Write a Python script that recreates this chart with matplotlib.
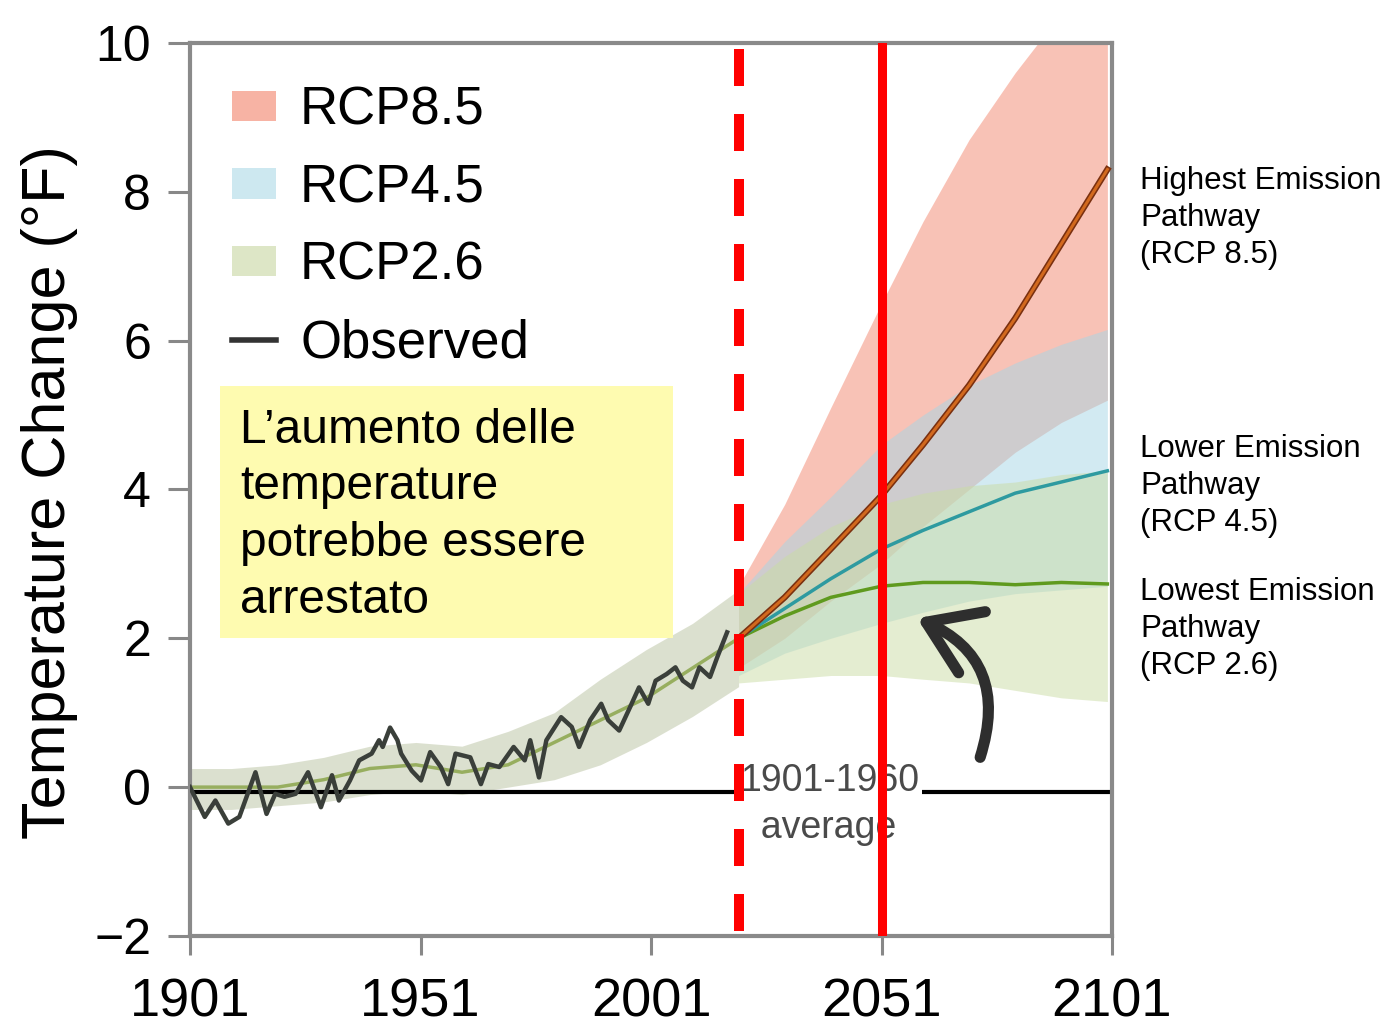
import numpy as np
import matplotlib.pyplot as plt
import matplotlib.patheffects as pe
from matplotlib.patches import Rectangle, Patch
from matplotlib.lines import Line2D

plt.rcParams['font.family'] = ['Liberation Sans', 'DejaVu Sans']

# observed temperature change
obs_year = [1901, 1904.2, 1906.5, 1909.3, 1911.7, 1915.2, 1917.6, 1919.5, 1921.5, 1923.9,
            1926.6, 1929.4, 1931.8, 1933.3, 1935.7, 1937.7, 1940.4, 1942, 1942.8, 1944.4,
            1946, 1946.8, 1949.1, 1951.1, 1953.1, 1955.4, 1957, 1958.6, 1961.8, 1964.1,
            1965.7, 1968.1, 1971.2, 1973.6, 1974.8, 1976.7, 1978.3, 1981.5, 1983.8, 1985.4,
            1987.8, 1990.2, 1991.7, 1994.1, 1996.5, 1998.4, 2000.4, 2002, 2004.4, 2006.3,
            2007.9, 2009.9, 2011.5, 2013.8, 2015.4, 2017.5]
obs_temp = [0.0, -0.40, -0.18, -0.49, -0.40, 0.20, -0.36, -0.09, -0.13, -0.09,
            0.20, -0.27, 0.16, -0.18, 0.09, 0.36, 0.45, 0.63, 0.54, 0.80,
            0.63, 0.45, 0.22, 0.09, 0.47, 0.27, 0.04, 0.45, 0.40, 0.04,
            0.31, 0.27, 0.54, 0.36, 0.63, 0.13, 0.63, 0.94, 0.81, 0.54,
            0.90, 1.12, 0.90, 0.76, 1.08, 1.34, 1.12, 1.43, 1.52, 1.61,
            1.43, 1.34, 1.61, 1.48, 1.75, 2.08]

# historical model range
hist_year = [1901, 1910, 1920, 1930, 1940, 1950, 1960, 1970, 1980, 1990, 2000, 2010, 2020]
hist_lo = [-0.3, -0.3, -0.25, -0.2, -0.1, -0.05, -0.1, 0.0, 0.1, 0.3, 0.6, 0.95, 1.35]
hist_hi = [0.25, 0.25, 0.3, 0.4, 0.55, 0.6, 0.55, 0.75, 1.0, 1.45, 1.85, 2.2, 2.65]
hist_mid = [0.0, 0.0, 0.0, 0.1, 0.25, 0.3, 0.2, 0.3, 0.6, 0.9, 1.2, 1.6, 2.0]

# projections
proj_year = [2020, 2030, 2040, 2051, 2060, 2070, 2080, 2090, 2100]
rcp85 = [2.0, 2.55, 3.2, 3.92, 4.6, 5.4, 6.3, 7.3, 8.3]
rcp85_lo = [1.6, 2.0, 2.5, 3.0, 3.5, 4.0, 4.5, 4.9, 5.2]
rcp85_hi = [2.7, 3.8, 5.1, 6.5, 7.6, 8.7, 9.6, 10.4, 11.2]
rcp45 = [2.0, 2.4, 2.8, 3.2, 3.45, 3.7, 3.95, 4.1, 4.25]
rcp45_lo = [1.5, 1.8, 2.0, 2.2, 2.35, 2.5, 2.6, 2.65, 2.7]
rcp45_hi = [2.6, 3.3, 3.9, 4.6, 5.0, 5.4, 5.7, 5.95, 6.15]
rcp26 = [2.0, 2.3, 2.55, 2.7, 2.75, 2.75, 2.72, 2.75, 2.73]
rcp26_lo = [1.4, 1.45, 1.5, 1.5, 1.45, 1.4, 1.3, 1.2, 1.15]
rcp26_hi = [2.6, 3.1, 3.5, 3.8, 3.95, 4.05, 4.1, 4.2, 4.25]

baseline = -0.06
now_year = 2020
mark_year = 2051

fig = plt.figure(figsize=(13.9, 10.3), dpi=100)
ax = fig.add_axes([0.1367, 0.0913, 0.6633, 0.867])

ax.fill_between(hist_year, hist_lo, hist_hi, color='#b9c2a0', alpha=0.5, lw=0, zorder=1)
ax.fill_between(proj_year, rcp85_lo, rcp85_hi, color='#f4907a', alpha=0.55, lw=0, zorder=1)
ax.fill_between(proj_year, rcp45_lo, rcp45_hi, color='#a6d6e6', alpha=0.5, lw=0, zorder=1)
ax.fill_between(proj_year, rcp26_lo, rcp26_hi, color='#cadca4', alpha=0.5, lw=0, zorder=1)

ax.plot(hist_year, hist_mid, color='#7a9a30', lw=2.5, alpha=0.7, zorder=2)
ax.plot(proj_year, rcp26, color='#5f9a1e', lw=2.5, zorder=3)
ax.plot(proj_year, rcp45, color='#2e9aa0', lw=2.5, zorder=3)
ax.plot(proj_year, rcp85, color='#d2691e', lw=2.2, zorder=4,
        path_effects=[pe.Stroke(linewidth=4.5, foreground='#7a3010'), pe.Normal()])

ax.axhline(baseline, color='black', lw=3, zorder=2)
ax.plot(obs_year, obs_temp, color='#3a3f3a', lw=3.2, zorder=5)

ax.text(now_year + 0.3, -0.23, '1901-1960\n  average', fontsize=27, color='#4a4a4a',
        va='center', ha='left', linespacing=1.4, zorder=6,
        bbox=dict(facecolor='white', edgecolor='none', pad=2))

ax.axvline(now_year, color='red', lw=7.2, ymin=0.005, ymax=1.0,
           dashes=(3.7, 2.8), dash_capstyle='butt', zorder=7)
ax.axvline(mark_year, color='red', lw=6.5, zorder=7)

# curved arrow
ax.annotate('', xy=(2058.7, 2.27), xytext=(2072.4, 0.40),
            arrowprops=dict(arrowstyle='->,head_length=0.9,head_width=0.6', lw=8,
                            color='#2e2e2e', connectionstyle='arc3,rad=0.45',
                            shrinkA=0, shrinkB=0, mutation_scale=40), zorder=6)

# yellow box
ax.add_patch(Rectangle((0.0325, 0.3337), 0.4915, 0.2823, transform=ax.transAxes,
                       facecolor='#fefbb0', edgecolor='none', zorder=6))
ax.text(0.0542, 0.471, 'L’aumento delle\ntemperature\npotrebbe essere\narrestato',
        transform=ax.transAxes, fontsize=34.5, va='center', ha='left',
        linespacing=1.34, zorder=7)

# right side labels
side_kw = dict(transform=ax.transAxes, fontsize=22.5, va='center', ha='left',
               linespacing=1.32, clip_on=False)
ax.text(1.0304, (936 - 218) / 893, 'Highest Emission\nPathway\n(RCP 8.5)', **side_kw)
ax.text(1.0304, (936 - 486) / 893, 'Lower Emission\nPathway\n(RCP 4.5)', **side_kw)
ax.text(1.0304, (936 - 629) / 893, 'Lowest Emission\nPathway\n(RCP 2.6)', **side_kw)

handles = [Patch(facecolor='#f7b3a4', edgecolor='none'),
           Patch(facecolor='#cde8f0', edgecolor='none'),
           Patch(facecolor='#dde6c6', edgecolor='none'),
           Line2D([0], [0], color='#333333', lw=4)]
ax.legend(handles, ['RCP8.5', 'RCP4.5', 'RCP2.6', 'Observed'], loc='upper left',
          bbox_to_anchor=(0.045, 0.952), frameon=False, fontsize=38,
          handlelength=0.85, handleheight=0.5, handletextpad=0.45,
          labelspacing=0.52, borderpad=0, borderaxespad=0)

ax.set_xlim(1901, 2101)
ax.set_ylim(-2, 10)
ax.set_xticks([1901, 1951, 2001, 2051, 2101])
ax.set_yticks([-2, 0, 2, 4, 6, 8, 10])
ax.set_yticklabels(['\u22122', '0', '2', '4', '6', '8', '10'])
ax.tick_params(axis='x', labelsize=39, length=14, width=2.2, color='#888888', pad=16)
ax.tick_params(axis='y', labelsize=36, length=16, width=2.2, color='#888888', pad=12)
for s in ax.spines.values():
    s.set_color('#8a8a8a')
    s.set_linewidth(3)

ax.set_ylabel('Temperature Change (°F)', fontsize=44)
ax.yaxis.set_label_coords(-0.1215, 0.497)

fig.savefig('out.png', dpi=100)
